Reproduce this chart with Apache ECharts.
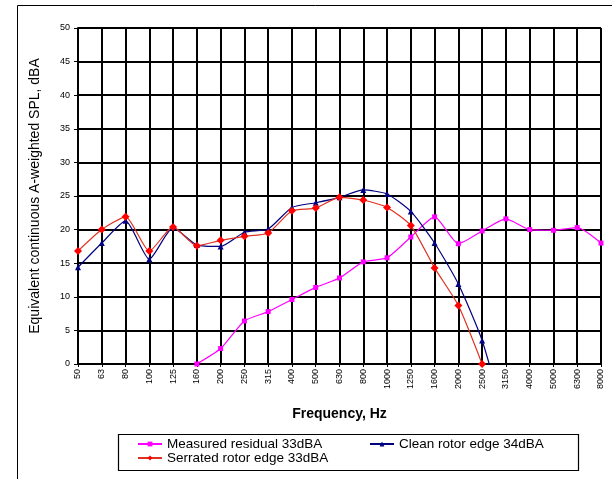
<!DOCTYPE html>
<html><head><meta charset="utf-8">
<script src="https://cdn.jsdelivr.net/npm/echarts@6/dist/echarts.min.js"></script>
<style>html,body{margin:0;padding:0;background:#fff}#c{width:612px;height:479px}</style>
</head><body><div id="c"></div>
<script>
const categories = ['50','63','80','100','125','160','200','250','315','400','500','630','800','1000','1250','1600','2000','2500','3150','4000','5000','6300','8000'];
const yTicks = [0,5,10,15,20,25,30,35,40,45,50];
const measuredResidual = [null,null,null,null,null,0,2.3,6.4,7.8,9.6,11.4,12.8,15.2,15.8,18.9,21.9,17.9,19.8,21.6,20.0,19.9,20.3,18.0];
const cleanRotor = [14.4,18.0,21.3,15.6,20.3,17.7,17.5,19.6,20.1,23.3,24.0,24.8,25.9,25.3,22.7,18.0,11.9,3.5,-9,null,null,null,null];
const serratedRotor = [16.8,20.0,21.9,16.8,20.4,17.6,18.4,19.0,19.5,22.8,23.2,24.8,24.4,23.3,20.6,14.3,8.7,0,null,null,null,null,null];

const FONT = 'Liberation Sans, Arial, sans-serif';
const chart = echarts.init(document.getElementById('c'));
const names = ['Measured residual 33dBA','Clean rotor edge 34dBA','Serrated rotor edge 33dBA'];
const legendText = {fontFamily: FONT, fontSize: 13.5, color: '#000'};
chart.setOption({
  animation: false,
  backgroundColor: '#fff',
  grid: {left: 78, right: 11, top: 28, bottom: 115, containLabel: false},
  legend: [
    {data: [names[0]], left: 137, top: 437, itemWidth: 24, itemHeight: 6, itemGap: 0, padding: 0, textStyle: legendText},
    {data: [names[1]], left: 369, top: 437, itemWidth: 24, itemHeight: 6, itemGap: 0, padding: 0, textStyle: legendText},
    {data: [names[2]], left: 137, top: 451, itemWidth: 24, itemHeight: 6, itemGap: 0, padding: 0, textStyle: legendText}
  ],
  graphic: [
    {type: 'rect', shape: {x: 17.5, y: 5.5, width: 640, height: 520}, style: {fill: 'none', stroke: '#000', lineWidth: 1}, silent: true, z: -1},
    {type: 'rect', shape: {x: 118.5, y: 434.5, width: 460, height: 36}, style: {fill: 'none', stroke: '#000', lineWidth: 1.2}, silent: true}
  ],
  xAxis: {
    type: 'category', data: categories, boundaryGap: false,
    name: 'Frequency, Hz', nameLocation: 'middle', nameGap: 43,
    nameTextStyle: {fontFamily: FONT, fontSize: 14, fontWeight: 'bold', color: '#000'},
    axisLine: {lineStyle: {color: '#000', width: 2}},
    axisTick: {show: true, length: 3, lineStyle: {color: '#000'}},
    axisLabel: {rotate: 90, interval: 0, fontFamily: FONT, fontSize: 9, color: '#000', margin: 5},
    splitLine: {show: true, lineStyle: {color: '#000', width: 2}}
  },
  yAxis: {
    type: 'value', min: 0, max: 50, interval: 5,
    name: 'Equivalent continuous A-weighted SPL, dBA', nameLocation: 'middle', nameGap: 36,
    nameTextStyle: {fontFamily: FONT, fontSize: 14, color: '#000'},
    axisLine: {show: true, lineStyle: {color: '#000', width: 2}},
    axisTick: {show: true, length: 4, lineStyle: {color: '#000'}},
    axisLabel: {fontFamily: FONT, fontSize: 9, color: '#000', margin: 8,
      formatter: v => yTicks.includes(v) ? String(v) : ''},
    splitLine: {show: true, lineStyle: {color: '#000', width: 2}}
  },
  series: [
    {name: names[0], type: 'line', data: measuredResidual, smooth: 0.2, clip: true,
     symbol: 'rect', symbolSize: 5, itemStyle: {color: '#FF00FF'}, lineStyle: {color: '#FF00FF', width: 1.2}, z: 3},
    {name: names[1], type: 'line', data: cleanRotor, smooth: 0.2, clip: true,
     symbol: 'triangle', symbolSize: 6, itemStyle: {color: '#000080'}, lineStyle: {color: '#000080', width: 1.2}, z: 4},
    {name: names[2], type: 'line', data: serratedRotor, smooth: 0.2, clip: true,
     symbol: 'diamond', symbolSize: 8, itemStyle: {color: '#FF0000'}, lineStyle: {color: '#E0301E', width: 1.2}, z: 5}
  ]
});
</script></body></html>
